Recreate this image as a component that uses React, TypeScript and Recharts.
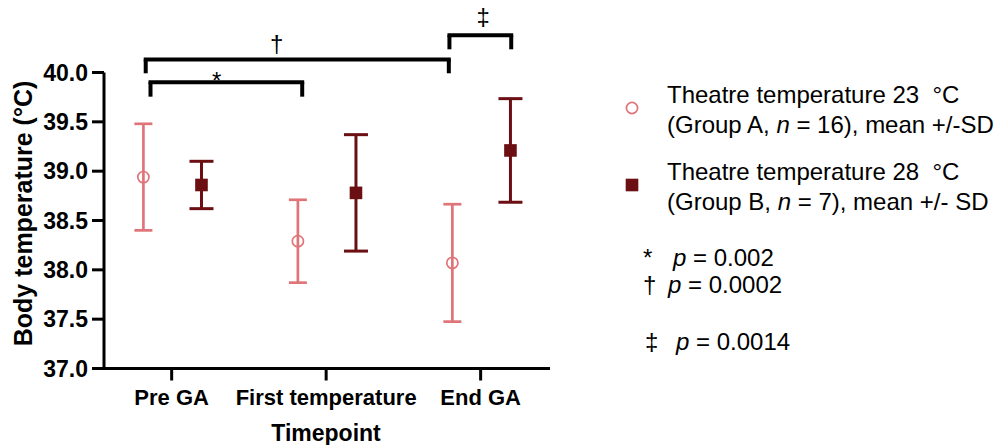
import React from 'react';
import { ScatterChart, Scatter, XAxis, YAxis, ErrorBar, ReferenceDot, ReferenceLine, Label } from 'recharts';

const categories = ['Pre GA', 'First temperature', 'End GA'];
const meanA = [38.94, 38.29, 38.07];
const sdA = [0.54, 0.42, 0.595];
const meanB = [38.86, 38.78, 39.21];
const sdB = [0.24, 0.59, 0.525];
const yTicks = [37.0, 37.5, 38.0, 38.5, 39.0, 39.5, 40.0];

// significance brackets, in data units
const bracketStart = [0.832, 0.863, 2.798];
const bracketEnd = [2.794, 1.845, 3.198];
const bracketLevel = [40.132, 39.902, 40.377];
const bracketFoot = [39.992, 39.755, 40.235];
const bracketSymbol = ['\u2020', '*', '\u2021'];
const symbolX = [1.68, 1.291, 3.017];
const symbolY = [40.203, 39.83, 40.481];

const PINK = '#E07579';
const DARK = '#6B0F13';
const FONT = '"Liberation Sans", Arial, Helvetica, sans-serif';
const OFFSET_A = -0.183;
const OFFSET_B = 0.193;

const dataA = categories.map((c, i) => ({ x: i + 1 + OFFSET_A, y: meanA[i], sd: sdA[i] }));
const dataB = categories.map((c, i) => ({ x: i + 1 + OFFSET_B, y: meanB[i], sd: sdB[i] }));

const OpenCircle = (p: any) => (
  <circle cx={p.cx} cy={p.cy} r={5.6} fill="none" stroke={PINK} strokeWidth={1.7} />
);
const FilledSquare = (p: any) => (
  <rect x={p.cx - 6.3} y={p.cy - 6.3} width={12.6} height={12.6} fill={DARK} />
);

const tickStyle = { fontFamily: FONT, fontSize: 22, fontWeight: 700, fill: '#000' };

export default function App() {
  return (
    <div style={{ position: 'absolute', left: 0, top: 0, width: 999, height: 445, background: '#fff', fontFamily: FONT }}>
      <ScatterChart width={999} height={445} margin={{ top: 72.5, right: 449, bottom: 0, left: 0 }}>
        <XAxis
          type="number"
          dataKey="x"
          domain={[0.562, 3.449]}
          allowDataOverflow
          ticks={[1, 2, 3]}
          tickFormatter={(v: number) => categories[Math.round(v) - 1]}
          height={76.5}
          tickSize={12}
          tickMargin={9}
          tick={tickStyle}
          axisLine={{ stroke: '#000', strokeWidth: 3 }}
          tickLine={{ stroke: '#000', strokeWidth: 3 }}
        >
          <Label
            content={() => (
              <text x={326} y={441} textAnchor="middle" fontFamily={FONT} fontSize={23} fontWeight={700} fill="#000">
                Timepoint
              </text>
            )}
          />
        </XAxis>
        <YAxis
          type="number"
          dataKey="y"
          domain={[37, 40]}
          allowDataOverflow
          ticks={yTicks}
          tickFormatter={(v: number) => v.toFixed(1)}
          width={104}
          tickSize={12}
          tickMargin={4}
          tick={{ ...tickStyle, fontSize: 23 }}
          axisLine={{ stroke: '#000', strokeWidth: 3 }}
          tickLine={{ stroke: '#000', strokeWidth: 3 }}
        >
          <Label
            content={() => (
              <text
                x={31.5}
                y={213.5}
                transform="rotate(-90, 31.5, 213.5)"
                textAnchor="middle"
                fontFamily={FONT}
                fontSize={25}
                fontWeight={700}
                fill="#000"
              >
                Body temperature (°C)
              </text>
            )}
          />
        </YAxis>
        {bracketStart.map((s, i) => (
          <ReferenceLine
            key={'bh' + i}
            segment={[{ x: s, y: bracketLevel[i] }, { x: bracketEnd[i], y: bracketLevel[i] }]}
            ifOverflow="visible"
            stroke="#000"
            strokeWidth={4}
            strokeLinecap="square"
          />
        ))}
        {bracketStart.map((s, i) => (
          <ReferenceLine
            key={'bl' + i}
            segment={[{ x: s, y: bracketLevel[i] }, { x: s, y: bracketFoot[i] }]}
            ifOverflow="visible"
            stroke="#000"
            strokeWidth={4}
          />
        ))}
        {bracketEnd.map((e, i) => (
          <ReferenceLine
            key={'br' + i}
            segment={[{ x: e, y: bracketLevel[i] }, { x: e, y: bracketFoot[i] }]}
            ifOverflow="visible"
            stroke="#000"
            strokeWidth={4}
          />
        ))}
        <Scatter data={dataA} shape={OpenCircle} isAnimationActive={false}>
          <ErrorBar dataKey="sd" direction="y" width={9} stroke={PINK} strokeWidth={2.7} />
        </Scatter>
        <Scatter data={dataB} shape={FilledSquare} isAnimationActive={false}>
          <ErrorBar dataKey="sd" direction="y" width={12} stroke={DARK} strokeWidth={3} />
        </Scatter>
        {bracketSymbol.map((s, i) => (
          <ReferenceDot
            key={'sym' + i}
            x={symbolX[i]}
            y={symbolY[i]}
            ifOverflow="visible"
            shape={(p: any) => (
              <text x={p.cx} y={p.cy} textAnchor="middle" fontFamily={FONT} fontSize={24} fill="#000">
                {s}
              </text>
            )}
          />
        ))}
      </ScatterChart>

      <svg style={{ position: 'absolute', left: 0, top: 0 }} width={999} height={445} pointerEvents="none">
        <circle cx={632} cy={108} r={5.6} fill="none" stroke={PINK} strokeWidth={1.7} />
        <rect x={625.7} y={178.7} width={12.6} height={12.6} fill={DARK} />
      </svg>

      <div style={{ position: 'absolute', left: 667, top: 80, fontSize: 24, lineHeight: '30px', whiteSpace: 'nowrap', color: '#000' }}>
        <div>Theatre temperature 23 {'\u00a0'}°C</div>
        <div>(Group A, <i>n</i> = 16), mean +/-SD</div>
      </div>
      <div style={{ position: 'absolute', left: 667, top: 157, fontSize: 24, lineHeight: '30px', whiteSpace: 'nowrap', color: '#000' }}>
        <div>Theatre temperature 28 {'\u00a0'}°C</div>
        <div>(Group B, <i>n</i> = 7), mean +/- SD</div>
      </div>

      <div style={{ position: 'absolute', left: 643, top: 243, fontSize: 24, lineHeight: '30px', whiteSpace: 'nowrap' }}>*</div>
      <div style={{ position: 'absolute', left: 673, top: 243, fontSize: 24, lineHeight: '30px', whiteSpace: 'nowrap' }}><i>p</i> = 0.002</div>
      <div style={{ position: 'absolute', left: 643, top: 270, fontSize: 24, lineHeight: '30px', whiteSpace: 'nowrap' }}>†</div>
      <div style={{ position: 'absolute', left: 668, top: 270, fontSize: 24, lineHeight: '30px', whiteSpace: 'nowrap' }}><i>p</i> = 0.0002</div>
      <div style={{ position: 'absolute', left: 645, top: 327, fontSize: 24, lineHeight: '30px', whiteSpace: 'nowrap' }}>‡</div>
      <div style={{ position: 'absolute', left: 676, top: 327, fontSize: 24, lineHeight: '30px', whiteSpace: 'nowrap' }}><i>p</i> = 0.0014</div>
    </div>
  );
}
